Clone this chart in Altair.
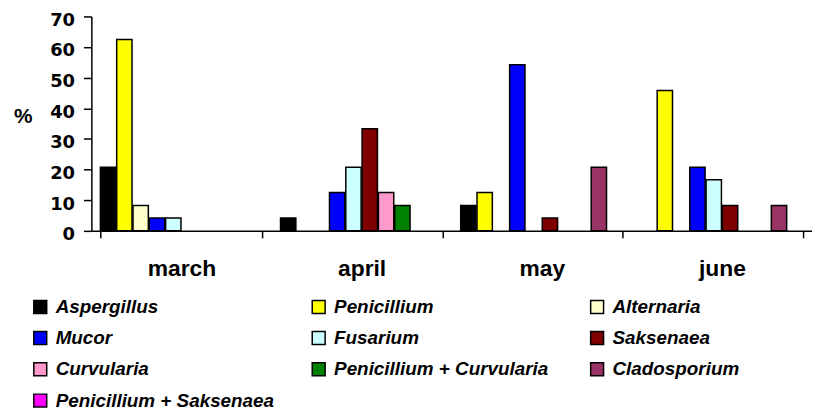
import altair as alt
import pandas as pd

months = ["march", "april", "may", "june"]
species = ["Aspergillus", "Penicillium", "Alternaria", "Mucor", "Fusarium",
           "Saksenaea", "Curvularia", "Penicillium + Curvularia", "Cladosporium",
           "Penicillium + Saksenaea"]
colors = ["#000000", "#FFFF00", "#FFFFCC", "#0000FF", "#CCFFFF",
          "#800000", "#FF99CC", "#008000", "#993366", "#FF00FF"]

march = [20.8, 62.5, 8.3, 4.2, 4.2, 0, 0, 0, 0, 0]
april = [4.2, 0, 0, 12.5, 20.8, 33.3, 12.5, 8.3, 0, 0]
may = [8.3, 12.5, 0, 54.2, 0, 4.2, 0, 0, 20.8, 0]
june = [0, 45.8, 0, 20.8, 16.7, 8.3, 0, 0, 8.3, 0]
y_ticks = [0, 10, 20, 30, 40, 50, 60, 70]

rows = []
for m, vals in zip(months, [march, april, may, june]):
    for s, v in zip(species, vals):
        if v > 0:
            rows.append({"month": m, "species": s, "value": v})
df = pd.DataFrame(rows)

chart = alt.Chart(df).mark_bar(stroke="black", strokeWidth=1.5).encode(
    x=alt.X("month:N", sort=months,
            scale=alt.Scale(domain=months, paddingInner=0.1, paddingOuter=0.05),
            axis=alt.Axis(title=None, labelFont="Liberation Sans", labelFontWeight="bold",
                          labelFontSize=23, labelColor="black", labelAngle=0, labelPadding=20,
                          tickBand="extent", tickSize=7, tickColor="black", tickWidth=1.5,
                          domainColor="black", domainWidth=1.5)),
    xOffset=alt.XOffset("species:N", sort=species,
                        scale=alt.Scale(domain=species, paddingInner=0.06)),
    y=alt.Y("value:Q", scale=alt.Scale(domain=[0, 70], nice=False),
            axis=alt.Axis(values=y_ticks, title="%", titleAngle=0, titleX=-69, titleY=101,
                          titleFont="Liberation Sans", titleFontWeight="bold", titleFontSize=21,
                          titleAlign="center", titleBaseline="middle", titleColor="black",
                          labelFont="DejaVu Sans", labelFontWeight="bold", labelFontSize=18,
                          labelColor="black", labelPadding=9, labelOffset=4, tickSize=8,
                          tickColor="black", tickWidth=1.5, grid=False,
                          domainColor="black", domainWidth=1.5)),
    color=alt.Color("species:N",
                    scale=alt.Scale(domain=species, range=colors),
                    legend=alt.Legend(title=None, orient="none", legendX=-61, legendY=283,
                                      direction="horizontal",
                                      columns=3, gridAlign="all", columnPadding=34.5,
                                      rowPadding=11.5, symbolType="square", symbolSize=169,
                                      symbolStrokeColor="black", symbolStrokeWidth=1.5,
                                      symbolOpacity=1, labelFont="Liberation Sans",
                                      labelFontStyle="italic", labelFontWeight="bold",
                                      labelFontSize=19, labelColor="black", labelOffset=6,
                                      labelLimit=400, padding=0)),
).properties(
    width=726, height=216,
    padding={"left": 84, "top": 7, "right": 0, "bottom": 180},
    autosize=alt.AutoSizeParams(type="none"),
).configure_view(stroke=None)

chart.save("out.html", embed_options={"renderer": "svg", "actions": False})
